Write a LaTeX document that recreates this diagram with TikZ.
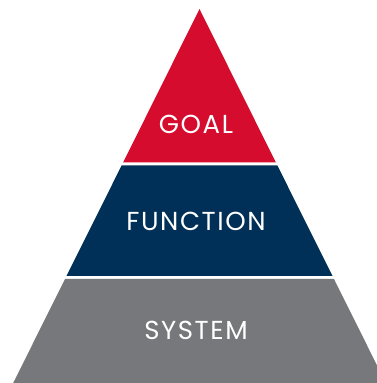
\documentclass[tikz,border=0pt]{standalone}
\usepackage{fontspec}
\setmainfont{Poppins}[LetterSpace=6]

\definecolor{goalred}{RGB}{213,12,46}
\definecolor{funcnavy}{RGB}{0,48,87}
\definecolor{sysgray}{RGB}{119,120,124}

\tikzset{
  level/.style={draw=none},
  levellabel/.style={anchor=base, text=white, font=\fontsize{26}{26}\selectfont, inner sep=0pt}
}

\begin{document}
\begin{tikzpicture}[x=1pt,y=1pt]
  \useasboundingbox (0,0) rectangle (377,383);
  \clip (0,0) rectangle (377,383);
  % goal
  \filldraw[level, fill=goalred] (199.5,374) -- (275.8,220.7) -- (123.2,220.7) -- cycle;
  \node[levellabel] (goal) at (196,249.7) {GOAL};
  % function
  \filldraw[level, fill=funcnavy] (121.6,217.5) -- (277.4,217.5) -- (332.5,107) -- (66.5,107) -- cycle;
  \node[levellabel] (function) at (196,152.3) {FUNCTION};
  % system
  \filldraw[level, fill=sysgray] (65,104) -- (334,104) -- (385.8,0) -- (13.2,0) -- cycle;
  \node[levellabel] (system) at (196,43) {SYSTEM};
\end{tikzpicture}
\end{document}
